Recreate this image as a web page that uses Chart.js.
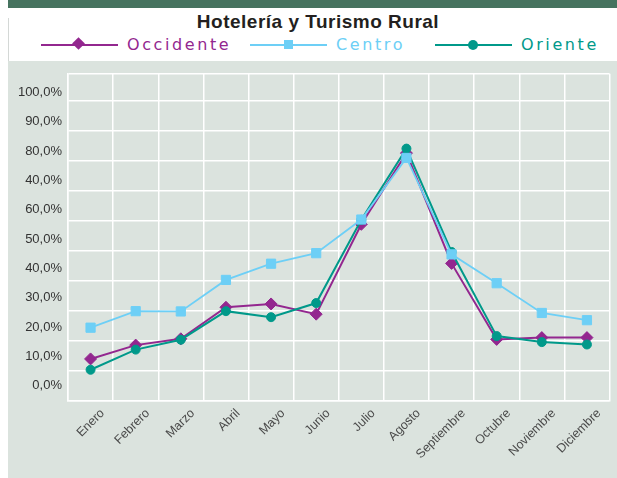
<!DOCTYPE html>
<html>
<head>
<meta charset="utf-8">
<script src="https://cdn.jsdelivr.net/npm/chart.js@4/dist/chart.umd.min.js"></script>
<style>
  body { margin: 0; width: 617px; height: 478px; position: relative; overflow: hidden; background: #fff; font-family: "Liberation Sans", Arial, sans-serif; }
  #topBar { position: absolute; left: 8px; top: 0; width: 609px; height: 8px; background: #46735f; }
  #edge { position: absolute; left: 8px; top: 18px; width: 1px; height: 43px; background: #d4d8d6; }
  #title { position: absolute; left: 0; top: 11px; width: 636px; text-align: center; font-weight: bold; font-size: 19px; letter-spacing: 0.5px; color: #231f20; }
  #legend { position: absolute; left: 0; top: 35px; width: 617px; height: 20px; }
  .item { position: absolute; top: 0; height: 20px; }
  .item .line { position: absolute; left: 0; top: 9px; width: 77px; height: 2px; }
  .item .mark { position: absolute; }
  .item .txt { position: absolute; left: 86px; top: 0; font-family: "DejaVu Sans", sans-serif; font-size: 16px; letter-spacing: 2.6px; white-space: nowrap; line-height: 20px; }
  #panel { position: absolute; left: 8px; top: 61px; width: 609px; height: 417px; background: #dbe3de; }
  #chart { position: absolute; left: 0; top: 60px; }
</style>
</head>
<body>
<div id="topBar"></div>
<div id="edge"></div>
<div id="title">Hotelería y Turismo Rural</div>
<div id="legend"></div>
<div id="panel"></div>
<canvas id="chart" width="617" height="418"></canvas>
<script>
// data (percent)
const months = ['Enero', 'Febrero', 'Marzo', 'Abril', 'Mayo', 'Junio', 'Julio', 'Agosto', 'Septiembre', 'Octubre', 'Noviembre', 'Diciembre'];
const occidente = [9.0, 13.6, 15.7, 26.2, 27.3, 23.9, 53.8, 77.5, 40.8, 15.5, 16.1, 16.1];
const centro = [19.4, 24.9, 24.8, 35.3, 40.7, 44.2, 55.4, 75.9, 43.8, 34.2, 24.3, 21.9];
const oriente = [5.4, 12.1, 15.4, 24.9, 22.9, 27.6, 55.3, 79.0, 44.6, 16.6, 14.6, 13.8];

// y tick labels as printed on the original (including its odd "40,0%")
const yTickValues = [0, 10, 20, 30, 40, 50, 60, 70, 80, 90, 100];
const yTickLabels = ['0,0%', '10,0%', '20,0%', '30,0%', '40,0%', '50,0%', '60,0%', '40,0%', '80,0%', '90,0%', '100,0%'];
// the white grid sits half a step off the labels
const gridValues = [-5, 5, 15, 25, 35, 45, 55, 65, 75, 85, 95, 103.9];

const seriesNames = ['Occidente', 'Centro', 'Oriente'];
const seriesColors = ['#93278f', '#6dcff6', '#00998a'];

// legend drawn as html above the panel
function buildLegend() {
  const lefts = [41, 250, 435];
  const marks = [
    'left:33px;top:4px;width:9px;height:9px;transform:rotate(45deg);',
    'left:34px;top:5px;width:9px;height:9px;',
    'left:33px;top:5px;width:10px;height:10px;border-radius:50%;'
  ];
  const legend = document.getElementById('legend');
  seriesNames.forEach((name, i) => {
    let div = document.createElement('div');
    div.className = 'item';
    div.style.left = lefts[i] + 'px';
    div.innerHTML = `<div class="line" style="background:${seriesColors[i]}"></div>` +
      `<div class="mark" style="${marks[i]}background:${seriesColors[i]}"></div>` +
      `<div class="txt" style="color:${seriesColors[i]}">${name}</div>`;
    legend.appendChild(div);
  });
}
buildLegend();

const ctx = document.getElementById('chart').getContext('2d');
new Chart(ctx, {
  type: 'line',
  data: {
    labels: months,
    datasets: [
      {
        label: seriesNames[0],
        data: occidente,
        borderColor: seriesColors[0],
        backgroundColor: seriesColors[0],
        borderWidth: 2,
        pointStyle: 'rectRot',
        pointRadius: 6,
        pointBorderWidth: 1,
        order: 2
      },
      {
        label: seriesNames[1],
        data: centro,
        borderColor: seriesColors[1],
        backgroundColor: seriesColors[1],
        borderWidth: 1.8,
        pointStyle: 'rect',
        pointRadius: 6.5,
        pointBorderWidth: 1,
        order: 0
      },
      {
        label: seriesNames[2],
        data: oriente,
        borderColor: seriesColors[2],
        backgroundColor: seriesColors[2],
        borderWidth: 2,
        pointStyle: 'circle',
        pointRadius: 4.5,
        pointBorderWidth: 1,
        order: 1
      }
    ]
  },
  options: {
    responsive: false,
    animation: false,
    layout: { padding: { top: 12, right: 2, left: 0, bottom: 0 } },
    plugins: {
      legend: { display: false },
      tooltip: { enabled: false }
    },
    scales: {
      x: {
        offset: true,
        grid: { offset: true, color: '#ffffff', lineWidth: 1.5, drawTicks: false },
        border: { color: '#ffffff', width: 1.5 },
        ticks: {
          minRotation: 45,
          maxRotation: 45,
          padding: 5,
          labelOffset: 12,
          color: '#4a4a4a',
          font: { family: 'Liberation Sans', size: 12.5 }
        },
        afterFit: function (scale) { scale.height = 77; }
      },
      // grid axis, carries the data
      y: {
        min: -5,
        max: 103.9,
        grid: { color: '#ffffff', lineWidth: 1.5, drawTicks: false },
        border: { color: '#ffffff', width: 1.5 },
        afterBuildTicks: function (scale) {
          scale.ticks = gridValues.map(v => ({ value: v }));
        },
        ticks: { display: false },
        afterFit: function (scale) { scale.width = 0; }
      },
      // label axis, only the printed percentages
      yl: {
        position: 'left',
        min: -5.25,
        max: 106.3,
        grid: { display: false, drawTicks: false },
        border: { display: false },
        afterBuildTicks: function (scale) {
          scale.ticks = yTickValues.map(v => ({ value: v }));
        },
        ticks: {
          padding: 6,
          color: '#333333',
          font: { family: 'Liberation Sans', size: 13 },
          callback: function (value, index) { return yTickLabels[index]; }
        },
        afterFit: function (scale) { scale.width = 68; }
      }
    }
  }
});
</script>
</body>
</html>
